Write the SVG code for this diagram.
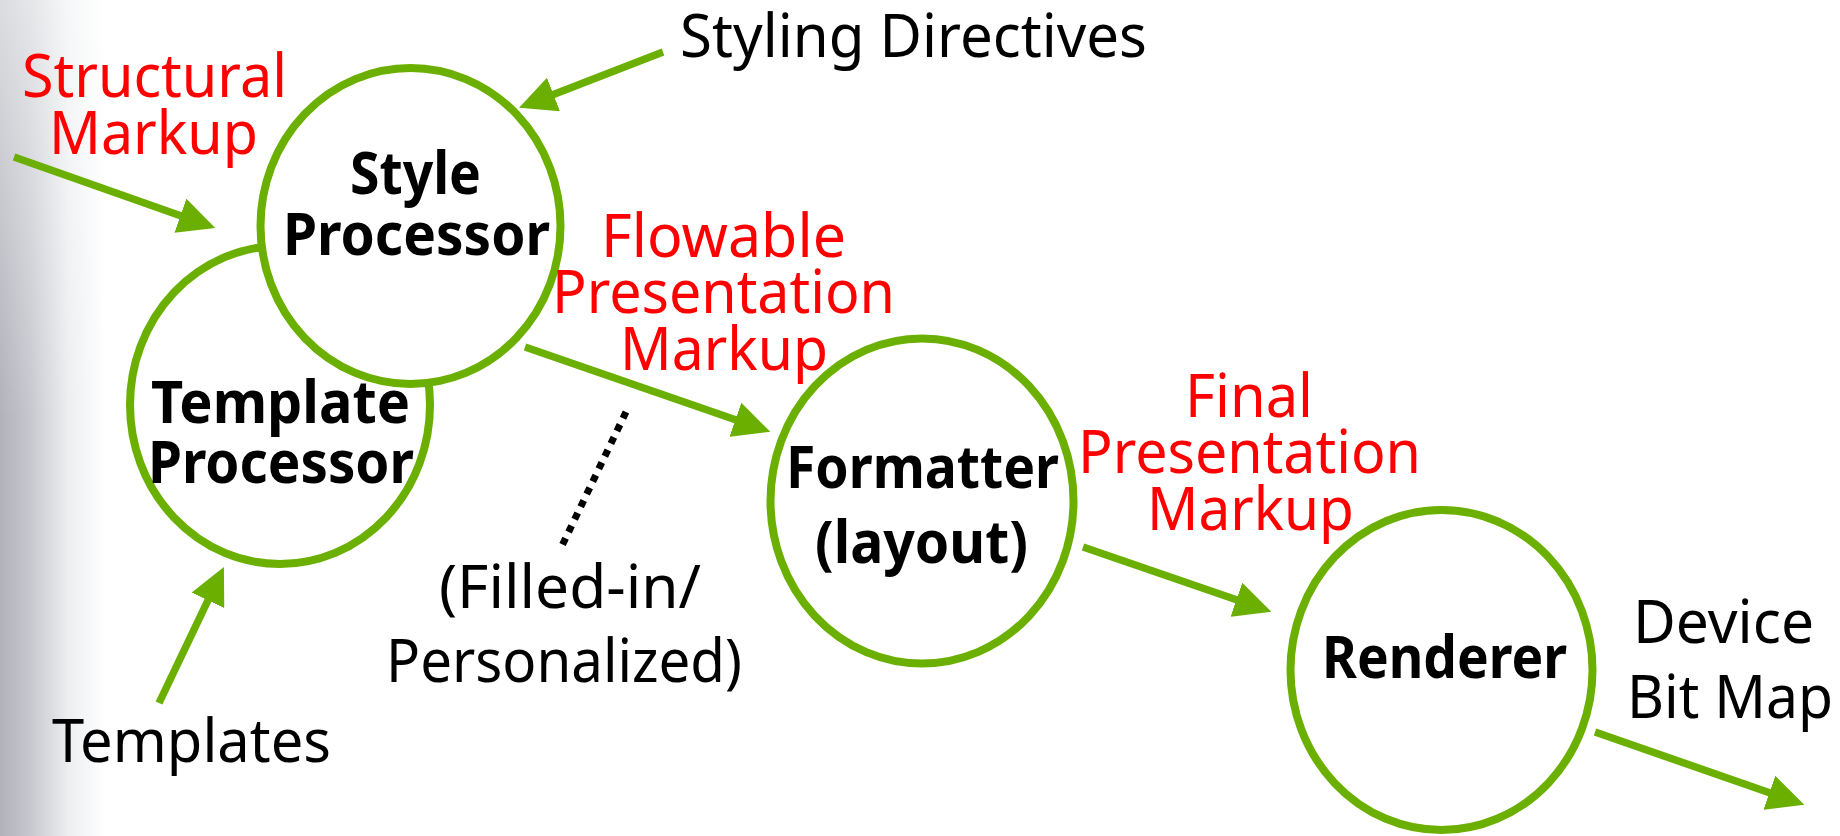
<svg xmlns="http://www.w3.org/2000/svg" width="1840" height="836" viewBox="0 0 1840 836">
  <defs>
    <linearGradient id="edge" gradientUnits="userSpaceOnUse" x1="0" y1="0" x2="105" y2="0">
      <stop offset="0" stop-color="#b1b2ba"/>
      <stop offset="0.3" stop-color="#c8c9cf"/>
      <stop offset="0.65" stop-color="#eceef0"/>
      <stop offset="1" stop-color="#ffffff"/>
    </linearGradient>
    <linearGradient id="fadeTop" x1="0" y1="0" x2="0" y2="1">
      <stop offset="0" stop-color="#ffffff" stop-opacity="0.55"/>
      <stop offset="0.5" stop-color="#ffffff" stop-opacity="0"/>
    </linearGradient>
    <marker id="arrow" markerUnits="userSpaceOnUse" markerWidth="38" markerHeight="36" refX="7" refY="18" orient="auto">
      <path d="M0,0 L37,18 L0,36 Z" fill="#6bb000"/>
    </marker>
    <style>
      .node { fill: #ffffff; stroke: #6bb000; stroke-width: 8; }
      .conn { stroke: #6bb000; stroke-width: 7.5; fill: none; marker-end: url(#arrow); }
      .dot { stroke: #000000; stroke-width: 7; stroke-dasharray: 7 7; fill: none; }
      .lbl { font-family: "Noto Sans", "Open Sans", "DejaVu Sans", sans-serif; font-size: 60px; fill: #000000; }
      .red { font-family: "Noto Sans", "Open Sans", "DejaVu Sans", sans-serif; font-size: 60px; fill: #ff0000; }
      .bold { font-family: "Noto Sans", "Open Sans", "DejaVu Sans", sans-serif; font-size: 59px; font-weight: bold; fill: #000000; }
    </style>
  </defs>
  <rect x="0" y="0" width="1840" height="836" fill="#ffffff"/>
  <rect x="0" y="0" width="105" height="836" fill="url(#edge)"/>
  <rect x="0" y="0" width="105" height="836" fill="url(#fadeTop)"/>

  <g id="connectors">
    <line class="conn" x1="14" y1="157" x2="187" y2="218"/>
    <line class="conn" x1="663" y1="52" x2="547" y2="97"/>
    <line class="conn" x1="159" y1="703" x2="211" y2="594"/>
    <line class="conn" x1="525" y1="347" x2="742" y2="422"/>
    <line class="conn" x1="1083" y1="547" x2="1243" y2="602"/>
    <line class="conn" x1="1595" y1="732" x2="1776" y2="795"/>
    <line class="dot" x1="626" y1="412" x2="560" y2="550"/>
  </g>

  <g id="template-processor">
    <ellipse class="node" cx="280" cy="405" rx="150" ry="159"/>
    <text class="bold" x="151" y="423" textLength="259" lengthAdjust="spacingAndGlyphs">Template</text>
    <text class="bold" x="148" y="483" textLength="266" lengthAdjust="spacingAndGlyphs">Processor</text>
  </g>

  <g id="style-processor">
    <ellipse class="node" cx="410.5" cy="226" rx="150" ry="158"/>
    <text class="bold" x="350" y="194" textLength="131" lengthAdjust="spacingAndGlyphs">Style</text>
    <text class="bold" x="283" y="255" textLength="267" lengthAdjust="spacingAndGlyphs">Processor</text>
  </g>

  <g id="formatter">
    <ellipse class="node" cx="922" cy="501" rx="151.5" ry="162.5"/>
    <text class="bold" x="786" y="488" textLength="273" lengthAdjust="spacingAndGlyphs">Formatter</text>
    <text class="bold" x="815" y="563" textLength="213" lengthAdjust="spacingAndGlyphs">(layout)</text>
  </g>

  <g id="renderer">
    <ellipse class="node" cx="1441.5" cy="670" rx="151" ry="160"/>
    <text class="bold" x="1322" y="678" textLength="245" lengthAdjust="spacingAndGlyphs">Renderer</text>
  </g>

  <g id="labels">
    <text class="red" x="22" y="97" textLength="265" lengthAdjust="spacingAndGlyphs">Structural</text>
    <text class="red" x="49" y="154" textLength="209" lengthAdjust="spacingAndGlyphs">Markup</text>
    <text class="lbl" x="680" y="57" textLength="467" lengthAdjust="spacingAndGlyphs">Styling Directives</text>
    <text class="red" x="601" y="257" textLength="245" lengthAdjust="spacingAndGlyphs">Flowable</text>
    <text class="red" x="552" y="313" textLength="343" lengthAdjust="spacingAndGlyphs">Presentation</text>
    <text class="red" x="620" y="370" textLength="208" lengthAdjust="spacingAndGlyphs">Markup</text>
    <text class="red" x="1185" y="417" textLength="128" lengthAdjust="spacingAndGlyphs">Final</text>
    <text class="red" x="1078" y="473" textLength="343" lengthAdjust="spacingAndGlyphs">Presentation</text>
    <text class="red" x="1147" y="530" textLength="207" lengthAdjust="spacingAndGlyphs">Markup</text>
    <text class="lbl" x="52" y="762" textLength="279" lengthAdjust="spacingAndGlyphs">Templates</text>
    <text class="lbl" x="439" y="608" textLength="262" lengthAdjust="spacingAndGlyphs">(Filled-in/</text>
    <text class="lbl" x="386" y="682" textLength="356" lengthAdjust="spacingAndGlyphs">Personalized)</text>
    <text class="lbl" x="1633" y="643" textLength="181" lengthAdjust="spacingAndGlyphs">Device</text>
    <text class="lbl" x="1627" y="718" textLength="206" lengthAdjust="spacingAndGlyphs">Bit Map</text>
  </g>
</svg>
